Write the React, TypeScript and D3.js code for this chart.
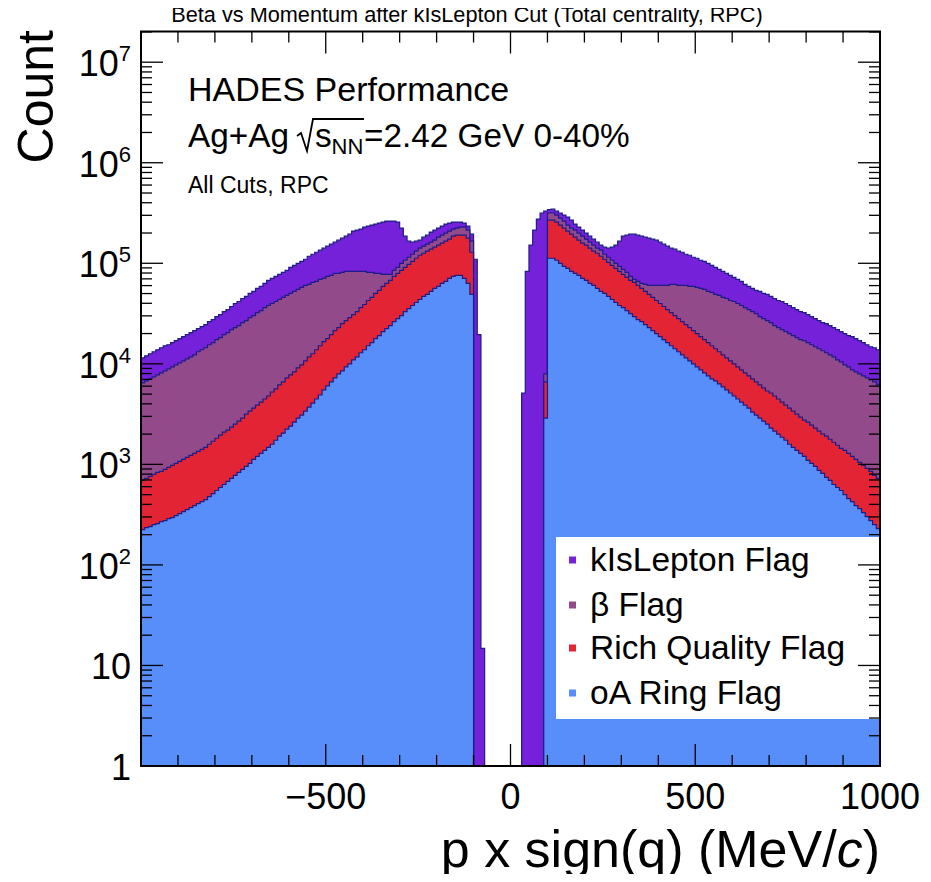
import React from "react";
import * as d3 from "d3";

// ---------------- data (log10 of counts per 10 MeV/c bin) ----------------
const BIN_WIDTH = 10;
const X_MIN = -1000;
const X_MAX = 1000;
const Y_MIN = 1;
const Y_MAX = 2.02e7;

// kIsLepton: negative side bins start at -1000, positive side bins start at 30
const kIsLeptonNegStart = -1000;
const kIsLeptonNeg = [
  4.06, 4.08, 4.10, 4.12, 4.14, 4.16, 4.18, 4.19, 4.21, 4.23,
  4.25, 4.27, 4.29, 4.31, 4.33, 4.35, 4.37, 4.39, 4.42, 4.44,
  4.47, 4.49, 4.52, 4.54, 4.57, 4.60, 4.62, 4.65, 4.67, 4.70,
  4.72, 4.75, 4.77, 4.80, 4.83, 4.85, 4.87, 4.89, 4.91, 4.93,
  4.96, 4.98, 5.00, 5.02, 5.04, 5.07, 5.09, 5.11, 5.13, 5.15,
  5.17, 5.19, 5.21, 5.23, 5.25, 5.27, 5.29, 5.32, 5.33, 5.34,
  5.36, 5.37, 5.38, 5.39, 5.40, 5.41, 5.42, 5.42, 5.42, 5.41,
  5.35, 5.27, 5.22, 5.21, 5.22, 5.23, 5.26, 5.28, 5.31, 5.33,
  5.35, 5.37, 5.39, 5.40, 5.41, 5.41, 5.41, 5.40, 5.37, 5.29,
  5.04, 4.29, 1.17,
];
const kIsLeptonPosStart = 30;
const kIsLeptonPos = [
  3.71, 4.92, 5.18, 5.33, 5.44, 5.50, 5.52, 5.535, 5.54, 5.52,
  5.50, 5.48, 5.46, 5.43, 5.39, 5.36, 5.33, 5.30, 5.27, 5.24,
  5.21, 5.18, 5.16, 5.15, 5.16, 5.18, 5.22, 5.27, 5.28, 5.29,
  5.29, 5.28, 5.27, 5.26, 5.25, 5.24, 5.23, 5.21, 5.19, 5.17,
  5.15, 5.14, 5.12, 5.11, 5.09, 5.08, 5.06, 5.05, 5.03, 5.02,
  5.00, 4.98, 4.96, 4.94, 4.92, 4.90, 4.88, 4.86, 4.84, 4.82,
  4.79, 4.77, 4.75, 4.73, 4.72, 4.70, 4.69, 4.67, 4.65, 4.63,
  4.62, 4.60, 4.58, 4.56, 4.54, 4.52, 4.51, 4.49, 4.47, 4.45,
  4.43, 4.41, 4.40, 4.38, 4.36, 4.34, 4.32, 4.30, 4.28, 4.27,
  4.25, 4.23, 4.21, 4.19, 4.17, 4.16, 4.14,
];

// the three tighter flags: negative side bins start at -1000, positive side at 90
const cutNegStart = -1000;
const cutPosStart = 90;

const betaNeg = [
  3.81, 3.83, 3.85, 3.87, 3.89, 3.91, 3.93, 3.95, 3.97, 3.99,
  4.01, 4.03, 4.05, 4.07, 4.09, 4.12, 4.14, 4.16, 4.19, 4.21,
  4.24, 4.26, 4.29, 4.31, 4.34, 4.36, 4.38, 4.41, 4.43, 4.46,
  4.48, 4.51, 4.53, 4.56, 4.58, 4.60, 4.62, 4.64, 4.66, 4.68,
  4.70, 4.72, 4.74, 4.76, 4.78, 4.79, 4.81, 4.82, 4.84, 4.85,
  4.87, 4.88, 4.90, 4.90, 4.91, 4.92, 4.92, 4.92, 4.92, 4.92,
  4.92, 4.91, 4.91, 4.90, 4.90, 4.89, 4.89, 4.89, 4.93, 4.96,
  5.00, 5.03, 5.06, 5.09, 5.12, 5.15, 5.17, 5.19, 5.21, 5.23,
  5.26, 5.28, 5.30, 5.32, 5.34, 5.35, 5.36, 5.36, 5.33, 5.22,
];
const betaPos = [
  3.90, 5.50, 5.50, 5.48, 5.45, 5.42, 5.38, 5.35, 5.33, 5.30,
  5.27, 5.24, 5.21, 5.18, 5.15, 5.13, 5.09, 5.06, 5.03, 5.00,
  4.97, 4.94, 4.91, 4.87, 4.84, 4.82, 4.80, 4.79, 4.78, 4.78,
  4.78, 4.78, 4.78, 4.78, 4.79, 4.79, 4.78, 4.78, 4.78, 4.77,
  4.77, 4.76, 4.75, 4.74, 4.72, 4.71, 4.69, 4.68, 4.66, 4.65,
  4.63, 4.62, 4.60, 4.58, 4.56, 4.54, 4.52, 4.50, 4.47, 4.45,
  4.43, 4.41, 4.38, 4.36, 4.34, 4.32, 4.30, 4.28, 4.26, 4.24,
  4.23, 4.21, 4.19, 4.17, 4.15, 4.13, 4.11, 4.09, 4.07, 4.04,
  4.02, 3.99, 3.97, 3.94, 3.92, 3.90, 3.88, 3.86, 3.84, 3.82,
  3.79,
];

const richNeg = [
  2.84, 2.86, 2.88, 2.90, 2.92, 2.93, 2.95, 2.97, 2.99, 3.01,
  3.03, 3.05, 3.07, 3.09, 3.11, 3.13, 3.15, 3.17, 3.20, 3.23,
  3.26, 3.29, 3.32, 3.34, 3.37, 3.40, 3.43, 3.46, 3.50, 3.53,
  3.56, 3.59, 3.62, 3.65, 3.68, 3.72, 3.75, 3.79, 3.82, 3.86,
  3.89, 3.92, 3.96, 3.99, 4.03, 4.07, 4.10, 4.14, 4.18, 4.22,
  4.25, 4.29, 4.33, 4.36, 4.40, 4.43, 4.46, 4.49, 4.52, 4.56,
  4.59, 4.63, 4.66, 4.70, 4.73, 4.77, 4.80, 4.83, 4.87, 4.90,
  4.93, 4.96, 4.99, 5.02, 5.05, 5.08, 5.10, 5.12, 5.14, 5.16,
  5.18, 5.20, 5.22, 5.24, 5.27, 5.28, 5.28, 5.28, 5.25, 5.11,
];
const richPos = [
  3.82, 5.43, 5.43, 5.41, 5.38, 5.35, 5.32, 5.29, 5.26, 5.23,
  5.20, 5.18, 5.15, 5.12, 5.10, 5.07, 5.04, 5.01, 4.98, 4.95,
  4.92, 4.89, 4.86, 4.83, 4.81, 4.78, 4.75, 4.72, 4.69, 4.66,
  4.63, 4.60, 4.57, 4.54, 4.51, 4.48, 4.45, 4.42, 4.39, 4.36,
  4.33, 4.30, 4.27, 4.24, 4.21, 4.18, 4.15, 4.12, 4.09, 4.06,
  4.03, 4.00, 3.97, 3.94, 3.91, 3.88, 3.85, 3.82, 3.79, 3.76,
  3.73, 3.71, 3.68, 3.65, 3.62, 3.59, 3.56, 3.53, 3.50, 3.47,
  3.44, 3.42, 3.39, 3.36, 3.33, 3.30, 3.28, 3.25, 3.22, 3.19,
  3.16, 3.14, 3.11, 3.08, 3.05, 3.02, 2.99, 2.96, 2.93, 2.89,
  2.86,
];

const ringNeg = [
  2.35, 2.37, 2.38, 2.40, 2.41, 2.43, 2.44, 2.46, 2.47, 2.49,
  2.51, 2.53, 2.55, 2.57, 2.59, 2.61, 2.63, 2.65, 2.68, 2.71,
  2.74, 2.77, 2.80, 2.83, 2.86, 2.89, 2.92, 2.95, 2.98, 3.01,
  3.05, 3.08, 3.11, 3.14, 3.17, 3.20, 3.24, 3.28, 3.31, 3.35,
  3.38, 3.42, 3.46, 3.49, 3.53, 3.57, 3.61, 3.65, 3.69, 3.74,
  3.78, 3.82, 3.86, 3.90, 3.93, 3.97, 4.00, 4.04, 4.07, 4.11,
  4.14, 4.18, 4.21, 4.25, 4.28, 4.32, 4.35, 4.38, 4.42, 4.45,
  4.48, 4.52, 4.55, 4.58, 4.61, 4.64, 4.67, 4.69, 4.72, 4.75,
  4.77, 4.80, 4.82, 4.85, 4.87, 4.88, 4.88, 4.85, 4.80, 4.69,
];
const ringPos = [
  3.46, 5.05, 5.05, 5.03, 5.00, 4.97, 4.95, 4.92, 4.90, 4.88,
  4.85, 4.83, 4.80, 4.78, 4.75, 4.72, 4.70, 4.67, 4.64, 4.61,
  4.58, 4.56, 4.53, 4.50, 4.47, 4.44, 4.42, 4.39, 4.36, 4.33,
  4.30, 4.27, 4.24, 4.21, 4.18, 4.15, 4.12, 4.09, 4.06, 4.03,
  4.00, 3.97, 3.94, 3.91, 3.88, 3.85, 3.83, 3.80, 3.77, 3.74,
  3.71, 3.68, 3.65, 3.62, 3.59, 3.56, 3.52, 3.49, 3.46, 3.43,
  3.40, 3.36, 3.33, 3.30, 3.27, 3.24, 3.20, 3.17, 3.14, 3.11,
  3.08, 3.04, 3.01, 2.98, 2.94, 2.91, 2.87, 2.84, 2.80, 2.77,
  2.74, 2.70, 2.66, 2.63, 2.59, 2.56, 2.52, 2.48, 2.44, 2.40,
  2.36,
];

const legendLabels = ["kIsLepton Flag", "\u03b2 Flag", "Rich Quality Flag", "oA Ring Flag"];
const seriesColors = ["#7521d9", "#934a8b", "#e32434", "#578ef9"];
const xTickValues = [-500, 0, 500, 1000];
const yDecades = [0, 1, 2, 3, 4, 5, 6, 7];

const FONT = "'Liberation Sans', Arial, Helvetica, sans-serif";

type Part = { start: number; logs: number[] };

export default function App() {
  const left = 141, right = 880, top = 31.5, bottom = 766;
  const x = d3.scaleLinear().domain([X_MIN, X_MAX]).range([left, right]);
  const y = d3.scaleLog().domain([Y_MIN, Y_MAX]).range([bottom, top]);

  const series: { parts: Part[] }[] = [
    { parts: [{ start: kIsLeptonNegStart, logs: kIsLeptonNeg }, { start: kIsLeptonPosStart, logs: kIsLeptonPos }] },
    { parts: [{ start: cutNegStart, logs: betaNeg }, { start: cutPosStart, logs: betaPos }] },
    { parts: [{ start: cutNegStart, logs: richNeg }, { start: cutPosStart, logs: richPos }] },
    { parts: [{ start: cutNegStart, logs: ringNeg }, { start: cutPosStart, logs: ringPos }] },
  ];

  const histPath = (parts: Part[]) => {
    const p = d3.path();
    const y0 = y(Y_MIN);
    parts.forEach(({ start, logs }) => {
      p.moveTo(x(start), y0);
      logs.forEach((lv, i) => {
        const yy = y(Math.pow(10, lv));
        p.lineTo(x(start + i * BIN_WIDTH), yy);
        p.lineTo(x(start + (i + 1) * BIN_WIDTH), yy);
      });
      p.lineTo(x(start + logs.length * BIN_WIDTH), y0);
      p.closePath();
    });
    return p.toString();
  };

  // ticks
  const xMinor = d3.range(-900, 1000, 100).filter((v) => v % 500 !== 0);
  const xMajor = [-500, 0, 500];
  const yMajor = yDecades.map((d) => Math.pow(10, d));
  const yMinor: number[] = [];
  yDecades.forEach((d) => {
    for (let k = 2; k <= 9; k++) {
      const v = k * Math.pow(10, d);
      if (v < Y_MAX) yMinor.push(v);
    }
  });

  const majLen = 22, minLen = 11;
  const legendY = [560, 605, 648, 693];

  return (
    <svg width={931} height={882} style={{ display: "block", margin: "-8px", background: "#fff" }} fontFamily={FONT}>
      <rect x={0} y={0} width={931} height={882} fill="#fff" />
      <defs>
        <clipPath id="plot">
          <rect x={left} y={top} width={right - left} height={bottom - top} />
        </clipPath>
      </defs>

      {/* histograms */}
      <g clipPath="url(#plot)">
        {series.map((s, i) => (
          <path key={i} d={histPath(s.parts)} fill={seriesColors[i]} stroke="#1c1c86" strokeWidth={1.2} strokeLinejoin="miter" />
        ))}
      </g>

      {/* legend */}
      <rect x={556} y={537} width={right - 556} height={182} fill="#fff" />
      {legendLabels.map((lab, i) => (
        <g key={lab}>
          <rect x={569} y={legendY[i] - 3.5} width={7} height={7} fill={seriesColors[i]} />
          <text x={590} y={legendY[i] + 11} fontSize={33.5} fill="#000">{lab}</text>
        </g>
      ))}

      {/* ticks */}
      <g stroke="#000" strokeWidth={1.3}>
        {xMajor.map((v) => (
          <g key={"xM" + v}>
            <line x1={x(v)} x2={x(v)} y1={bottom} y2={bottom - majLen} />
            <line x1={x(v)} x2={x(v)} y1={top} y2={top + majLen} />
          </g>
        ))}
        {xMinor.map((v) => (
          <g key={"xm" + v}>
            <line x1={x(v)} x2={x(v)} y1={bottom} y2={bottom - minLen} />
            <line x1={x(v)} x2={x(v)} y1={top} y2={top + minLen} />
          </g>
        ))}
        {yMajor.map((v) => (
          <g key={"yM" + v}>
            <line x1={left} x2={left + majLen} y1={y(v)} y2={y(v)} />
            <line x1={right} x2={right - majLen} y1={y(v)} y2={y(v)} />
          </g>
        ))}
        {yMinor.map((v) => (
          <g key={"ym" + v}>
            <line x1={left} x2={left + minLen} y1={y(v)} y2={y(v)} />
            <line x1={right} x2={right - minLen} y1={y(v)} y2={y(v)} />
          </g>
        ))}
      </g>

      {/* frame */}
      <rect x={left} y={top} width={right - left} height={bottom - top} fill="none" stroke="#000" strokeWidth={2} />

      {/* x tick labels */}
      {xTickValues.map((v) => (
        <text key={"xl" + v} x={x(v)} y={809} fontSize={36} textAnchor="middle" fill="#000">
          {v < 0 ? "\u2212" + Math.abs(v) : String(v)}
        </text>
      ))}

      {/* y tick labels */}
      {yDecades.map((d) => (
        <text key={"yl" + d} x={131} y={y(Math.pow(10, d)) + 14} fontSize={36} textAnchor="end" fill="#000">
          {d === 0 ? "1" : d === 1 ? "10" : (
            <>
              <tspan>10</tspan>
              <tspan fontSize={22} dy={-15}>{String(d)}</tspan>
            </>
          )}
        </text>
      ))}

      {/* axis titles */}
      <text x={880} y={867} fontSize={52} textAnchor="end" fill="#000">
        p x sign(q) (MeV/<tspan fontStyle="italic">c</tspan>)
      </text>
      <text transform="translate(53,30) rotate(-90)" fontSize={50} textAnchor="end" fill="#000">Count</text>

      {/* title */}
      <text x={467} y={22} fontSize={21.7} textAnchor="middle" fill="#000">
        Beta vs Momentum after kIsLepton Cut (Total centrality, RPC)
      </text>

      {/* annotations */}
      <text x={188} y={101} fontSize={34} fill="#000">HADES Performance</text>
      <text x={188} y={147} fontSize={33.3} fill="#000">Ag+Ag</text>
      <path d="M297,136 L301,133 L307,151 L313,119 L364,119" fill="none" stroke="#000" strokeWidth={1.8} />
      <text x={315} y={147} fontSize={33.3} fill="#000">s</text>
      <text x={331.5} y={154} fontSize={22} fill="#000">NN</text>
      <text x={364} y={147} fontSize={33.3} fill="#000">=2.42 GeV 0-40%</text>
      <text x={188} y={193} fontSize={23} fill="#000">All Cuts, RPC</text>
    </svg>
  );
}
